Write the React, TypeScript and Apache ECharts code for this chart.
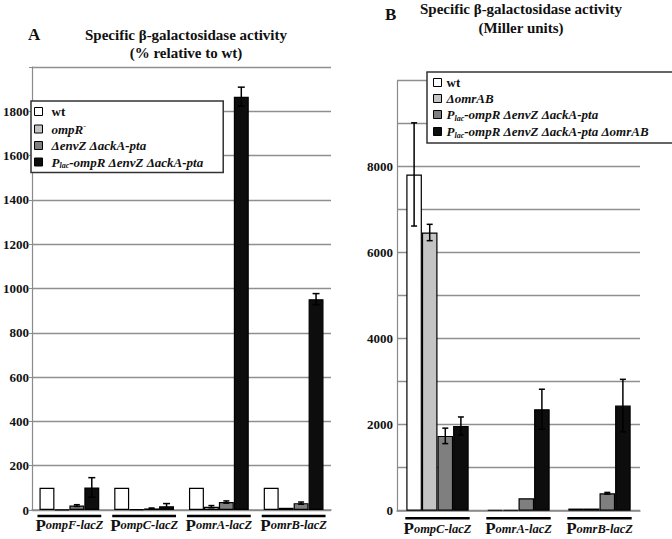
import React, { useEffect, useRef } from 'react';
import * as echarts from 'echarts';

// Panel A: % relative to wt
const catsA = ['ompF-lacZ', 'ompC-lacZ', 'omrA-lacZ', 'omrB-lacZ'];
const wtA = [100, 100, 100, 100];
const ompRA = [2, 3, 15, 10];
const envZA = [20, 7, 36, 31];
const placA = [102, 17, 1866, 952];
const errWtA = [0, 0, 0, 0];
const errOmpRA = [0, 0, 5, 0];
const errEnvZA = [4, 2, 5, 5];
const errPlacA = [44, 12, 43, 25];

// Panel B: Miller units
const catsB = ['ompC-lacZ', 'omrA-lacZ', 'omrB-lacZ'];
const wtB = [7820, 20, 50];
const omrABB = [6470, 20, 50];
const placB = [1740, 290, 405];
const placOmrB = [1970, 2360, 2445];
const errWtB = [1200, 0, 0];
const errOmrABB = [190, 0, 0];
const errPlacB = [180, 0, 20];
const errPlacOmrB = [210, 465, 610];

const F = '"Liberation Serif", "Times New Roman", serif';
const COLORS = ['#ffffff', '#c4c4c4', '#7f7f7f', '#0d0d0d'];
const GAP_A = 0.2;
const GAP_B = 0.23;

const legendNames: Record<string, string> = {
  a_wt: '{n|wt}',
  a_ompR: '{i|ompR}{sup|-}',
  a_envZ: '{i|ΔenvZ ΔackA-pta}',
  a_plac: '{i|P}{sub|lac}{i|-ompR ΔenvZ ΔackA-pta}',
  b_wt: '{n|wt}',
  b_omrAB: '{i|ΔomrAB}',
  b_plac: '{i|P}{sub|lac}{i|-ompR ΔenvZ ΔackA-pta}',
  b_placOmr: '{i|P}{sub|lac}{i|-ompR ΔenvZ ΔackA-pta ΔomrAB}',
};

const legendRich = {
  n: { fontFamily: F, fontWeight: 'bold', fontSize: 13, lineHeight: 15, color: '#111' },
  i: { fontFamily: F, fontWeight: 'bold', fontStyle: 'italic', fontSize: 13, lineHeight: 15, color: '#111' },
  sub: { fontFamily: F, fontWeight: 'bold', fontStyle: 'italic', fontSize: 8, lineHeight: 7, verticalAlign: 'bottom', color: '#111' },
  sup: { fontFamily: F, fontWeight: 'bold', fontStyle: 'italic', fontSize: 9, lineHeight: 8, verticalAlign: 'top', color: '#111' },
};

function barSeries(name: string, axis: number, data: number[], color: string, gap: number) {
  return {
    name,
    type: 'bar',
    xAxisIndex: axis,
    yAxisIndex: axis,
    data,
    barGap: '0%',
    barCategoryGap: gap * 100 + '%',
    itemStyle: { color, borderColor: '#000', borderWidth: 1.2 },
    z: 2,
  };
}

function errSeries(axis: number, vals: number[], errs: number[], barIdx: number, gap: number, cap: number) {
  return {
    type: 'custom',
    xAxisIndex: axis,
    yAxisIndex: axis,
    clip: false,
    silent: true,
    z: 5,
    data: vals.map((v, i) => [i, v, errs[i]]),
    encode: { x: 0, y: 1 },
    renderItem: (_p: any, api: any) => {
      const idx = api.value(0);
      const v = api.value(1);
      const e = api.value(2);
      if (!e) return { type: 'group', children: [] };
      const band = api.size([1, 0])[0];
      const bw = (band * (1 - gap)) / 4;
      const cx = api.coord([idx, v])[0] + (barIdx - 1.5) * bw;
      const yt = api.coord([idx, v + e])[1];
      const yb = api.coord([idx, Math.max(0, v - e)])[1];
      const st = { stroke: '#000', lineWidth: 1.5 };
      return {
        type: 'group',
        children: [
          { type: 'line', shape: { x1: cx, y1: yt, x2: cx, y2: yb }, style: st },
          { type: 'line', shape: { x1: cx - cap, y1: yt, x2: cx + cap, y2: yt }, style: st },
          { type: 'line', shape: { x1: cx - cap, y1: yb, x2: cx + cap, y2: yb }, style: st },
        ],
      };
    },
  };
}

function underlineSeries(axis: number, cats: string[], gap: number, extra: number, off: number) {
  return {
    type: 'custom',
    xAxisIndex: axis,
    yAxisIndex: axis,
    clip: false,
    silent: true,
    z: 5,
    data: cats.map((_c, i) => [i, 0]),
    encode: { x: 0, y: 1 },
    renderItem: (_p: any, api: any) => {
      const c = api.coord([api.value(0), 0]);
      const band = api.size([1, 0])[0];
      const half = (band * (1 - gap)) / 2 + extra;
      return {
        type: 'line',
        shape: { x1: c[0] - half, y1: c[1] + off, x2: c[0] + half, y2: c[1] + off },
        style: { stroke: '#000', lineWidth: 2.5 },
      };
    },
  };
}

const catRich = {
  P: { fontFamily: F, fontWeight: 'bold', fontSize: 17, lineHeight: 20, color: '#111' },
  s: { fontFamily: F, fontWeight: 'bold', fontStyle: 'italic', fontSize: 12.5, lineHeight: 20, color: '#111' },
};

export default function App() {
  const ref = useRef<HTMLDivElement>(null);
  useEffect(() => {
    if (!ref.current) return;
    const chart = echarts.init(ref.current, null, { renderer: 'svg' });
    const gridLine = { lineStyle: { color: '#8f8f8f', width: 1.3 } };
    const option: any = {
      animation: false,
      backgroundColor: '#fff',
      grid: [
        { left: 29, top: 67, width: 302, height: 443 },
        { left: 397, top: 80.7, width: 243, height: 430 },
      ],
      xAxis: [
        {
          type: 'category', gridIndex: 0, data: catsA,
          axisLine: { lineStyle: { color: '#8a8a8a', width: 1.5 } },
          axisTick: { show: false },
          axisLabel: { interval: 0, margin: 5, formatter: (v: string) => `{P|P}{s|${v}}`, rich: catRich },
        },
        {
          type: 'category', gridIndex: 1, data: catsB,
          axisLine: { lineStyle: { color: '#8a8a8a', width: 1.5 } },
          axisTick: { show: false },
          axisLabel: { interval: 0, margin: 8, formatter: (v: string) => `{P|P}{s|${v}}`, rich: catRich },
        },
      ],
      yAxis: [
        {
          type: 'value', gridIndex: 0, min: 0, max: 2000, interval: 200,
          axisLine: { show: true, lineStyle: { color: '#8a8a8a', width: 1.2 } },
          axisTick: { show: true, length: 3, lineStyle: { color: '#8a8a8a' } },
          splitLine: gridLine,
          axisLabel: {
            margin: 3, fontFamily: F, fontWeight: 'bold', fontSize: 13, color: '#111',
            formatter: (v: number) => (v >= 2000 ? '' : String(v)),
          },
        },
        {
          type: 'value', gridIndex: 1, min: 0, max: 10000, interval: 1000,
          axisLine: { show: true, lineStyle: { color: '#8a8a8a', width: 1.2 } },
          axisTick: { show: false },
          splitLine: gridLine,
          axisLabel: {
            margin: 4, fontFamily: F, fontWeight: 'bold', fontSize: 13, color: '#111',
            formatter: (v: number) => (v % 2000 === 0 && v < 10000 ? String(v) : ''),
          },
        },
      ],
      legend: [
        {
          orient: 'vertical', left: 31, top: 101, padding: [4, 20, 3, 3], itemGap: 3.5,
          itemWidth: 8, itemHeight: 8, icon: 'rect', selectedMode: false,
          borderColor: '#333', borderWidth: 1.5, backgroundColor: '#fff',
          itemStyle: { borderColor: '#000', borderWidth: 1 },
          textStyle: { rich: legendRich, padding: [0, 0, 0, 4] },
          formatter: (n: string) => legendNames[n],
          data: ['a_wt', 'a_ompR', 'a_envZ', 'a_plac'],
        },
        {
          orient: 'vertical', left: 427, top: 72, padding: [4, 27, 4, 6], itemGap: 3,
          itemWidth: 8, itemHeight: 8, icon: 'rect', selectedMode: false,
          borderColor: '#333', borderWidth: 1.5, backgroundColor: '#fff',
          itemStyle: { borderColor: '#000', borderWidth: 1 },
          textStyle: { rich: legendRich, padding: [0, 0, 0, 0] },
          formatter: (n: string) => legendNames[n],
          data: ['b_wt', 'b_omrAB', 'b_plac', 'b_placOmr'],
        },
      ],
      graphic: [
        { type: 'text', x: 28, y: 34, style: { text: 'A', font: `bold 17px ${F}`, fill: '#111', verticalAlign: 'middle' } },
        { type: 'text', x: 186, y: 35, style: { text: 'Specific β-galactosidase activity', font: `bold 15px ${F}`, fill: '#111', align: 'center', verticalAlign: 'middle' } },
        { type: 'text', x: 186, y: 53, style: { text: '(% relative to wt)', font: `bold 15px ${F}`, fill: '#111', align: 'center', verticalAlign: 'middle' } },
        { type: 'text', x: 385, y: 14, style: { text: 'B', font: `bold 17px ${F}`, fill: '#111', verticalAlign: 'middle' } },
        { type: 'text', x: 521, y: 9, style: { text: 'Specific β-galactosidase activity', font: `bold 15px ${F}`, fill: '#111', align: 'center', verticalAlign: 'middle' } },
        { type: 'text', x: 521, y: 28, style: { text: '(Miller units)', font: `bold 15px ${F}`, fill: '#111', align: 'center', verticalAlign: 'middle' } },
      ],
      series: [
        barSeries('a_wt', 0, wtA, COLORS[0], GAP_A),
        barSeries('a_ompR', 0, ompRA, COLORS[1], GAP_A),
        barSeries('a_envZ', 0, envZA, COLORS[2], GAP_A),
        barSeries('a_plac', 0, placA, COLORS[3], GAP_A),
        barSeries('b_wt', 1, wtB, COLORS[0], GAP_B),
        barSeries('b_omrAB', 1, omrABB, COLORS[1], GAP_B),
        barSeries('b_plac', 1, placB, COLORS[2], GAP_B),
        barSeries('b_placOmr', 1, placOmrB, COLORS[3], GAP_B),
        errSeries(0, wtA, errWtA, 0, GAP_A, 3),
        errSeries(0, ompRA, errOmpRA, 1, GAP_A, 3),
        errSeries(0, envZA, errEnvZA, 2, GAP_A, 3),
        errSeries(0, placA, errPlacA, 3, GAP_A, 3.5),
        errSeries(1, wtB, errWtB, 0, GAP_B, 3),
        errSeries(1, omrABB, errOmrABB, 1, GAP_B, 3),
        errSeries(1, placB, errPlacB, 2, GAP_B, 3),
        errSeries(1, placOmrB, errPlacOmrB, 3, GAP_B, 3),
        underlineSeries(0, catsA, GAP_A, 2, 6),
        underlineSeries(1, catsB, GAP_B, 1, 7.5),
      ],
    };
    chart.setOption(option);
    return () => chart.dispose();
  }, []);
  return <div ref={ref} style={{ position: 'absolute', left: 0, top: 0, width: 672, height: 539 }} />;
}
